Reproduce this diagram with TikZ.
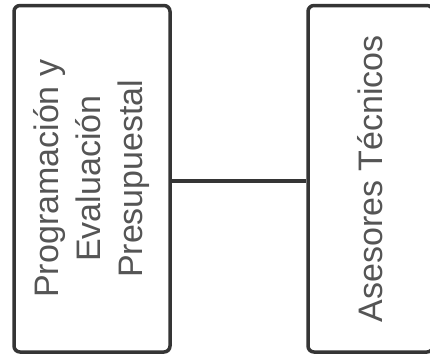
\documentclass[tikz,border=0pt]{standalone}
\usepackage{fontspec}
\setmainfont{Liberation Sans}
\definecolor{boxc}{HTML}{353535}
\definecolor{txtc}{HTML}{555555}
\begin{document}
\begin{tikzpicture}[x=1pt,y=-1pt,
  box/.style={draw=boxc, line width=3.5pt, rounded corners=6pt, fill=white, inner sep=0pt},
  lbl/.style={text=txtc, font=\fontsize{34}{42}\selectfont, align=center, rotate=90},
  conn/.style={draw=boxc, line width=3.5pt}]
\clip (0,0) rectangle (430,356);
\fill[white] (0,0) rectangle (430,356);
\node[box, minimum width=156pt, minimum height=346.5pt] (L) at (92,178.75) {};
\node[box, minimum width=125pt, minimum height=346.5pt] (R) at (370.5,178.75) {};
\node[lbl] (LT) at (L.center) {Programación y\\Evaluación\\Presupuestal};
\node[lbl] (RT) at (R.center) {Asesores Técnicos};
\draw[conn] ([yshift=-2pt]L.east) -- ([yshift=-2pt]R.west);
\end{tikzpicture}
\end{document}
